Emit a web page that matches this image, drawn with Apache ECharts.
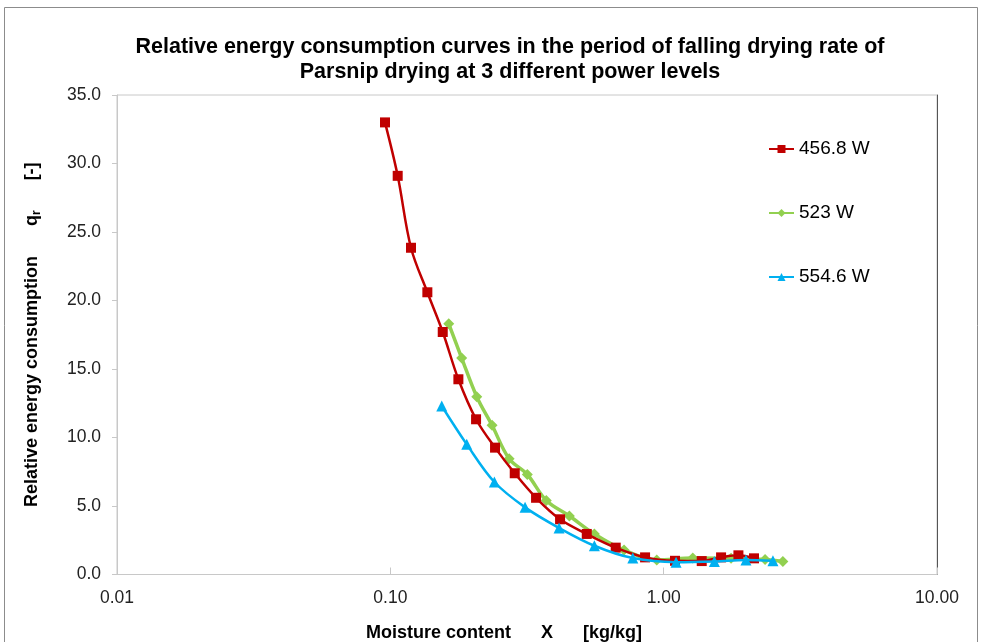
<!DOCTYPE html>
<html>
<head>
<meta charset="utf-8">
<title>Relative energy consumption - Parsnip drying</title>
<script src="https://cdn.jsdelivr.net/npm/echarts@6/dist/echarts.min.js"></script>
<style>
  html, body { margin: 0; padding: 0; background: #fff; }
  #main { width: 982px; height: 642px; }
</style>
</head>
<body>
<div id="main"></div>
<script>
// data
var seriesNames = ['456.8 W', '523 W', '554.6 W'];

var x4568 = [0.0956, 0.1064, 0.119, 0.1366, 0.1555, 0.1774, 0.2059, 0.2416, 0.2852, 0.3413, 0.4178, 0.5232, 0.6677, 0.855, 1.10, 1.378, 1.622, 1.877, 2.14];
var q4568 = [33.0, 29.1, 23.85, 20.6, 17.7, 14.25, 11.33, 9.26, 7.39, 5.6, 4.03, 2.96, 1.96, 1.25, 1.0, 0.98, 1.25, 1.4, 1.18];

var x523 = [0.1636, 0.1824, 0.2071, 0.2356, 0.272, 0.3171, 0.372, 0.4519, 0.5578, 0.7162, 0.9434, 1.278, 1.764, 2.35, 2.73];
var q523 = [18.3, 15.8, 12.98, 10.89, 8.45, 7.3, 5.4, 4.27, 2.96, 1.79, 1.06, 1.2, 1.18, 1.1, 0.95];

var x5546 = [0.1542, 0.1904, 0.2402, 0.3111, 0.4143, 0.5578, 0.771, 1.11, 1.533, 2.0, 2.51];
var q5546 = [12.3, 9.5, 6.75, 4.9, 3.4, 2.1, 1.2, 0.9, 0.95, 1.05, 1.0];

var yTicks = [0, 5, 10, 15, 20, 25, 30, 35];
var xTicks = [0.01, 0.1, 1, 10];

function pairs (xs, ys) {
  var out = [];
  for (var i = 0; i < xs.length; i++) {
    out.push([xs[i], ys[i]]);
  }
  return out;
}

var font = 'Liberation Sans, Arial, sans-serif';
var chart = echarts.init(document.getElementById('main'));

chart.setOption({
  animation: false,
  backgroundColor: '#fff',
  textStyle: { fontFamily: font },
  title: {
    text: 'Relative energy consumption curves in the period of falling drying rate of\nParsnip drying at 3 different power levels',
    left: 505,
    textAlign: 'center',
    top: 30,
    textStyle: { fontSize: 21.5, fontWeight: 'bold', color: '#000', lineHeight: 25, fontFamily: font }
  },
  graphic: [
    { // outer chart frame
      type: 'rect',
      shape: { x: 4.5, y: 7.5, width: 973, height: 700 },
      style: { fill: 'none', stroke: '#8c8c8c', lineWidth: 1 },
      silent: true
    }
  ],
  legend: {
    orient: 'vertical',
    left: 763,
    top: 134.5,
    itemGap: 45,
    itemWidth: 25,
    itemHeight: 10,
    textStyle: { fontSize: 19, color: '#000', fontFamily: font },
    data: seriesNames
  },
  grid: {
    left: 117,
    top: 95,
    right: 45,
    bottom: 67.5,
    outerBoundsMode: 'none',
    containLabel: false,
    show: true,
    borderColor: '#c8c8c8',
    borderWidth: 1
  },
  xAxis: {
    type: 'log',
    logBase: 10,
    min: xTicks[0],
    max: xTicks[xTicks.length - 1],
    name: 'Moisture content      X      [kg/kg]',
    nameLocation: 'middle',
    nameGap: 50,
    nameTextStyle: { fontSize: 18, fontWeight: 'bold', color: '#000', fontFamily: font, padding: [0, 46, 0, 0] },
    axisLine: { show: true, lineStyle: { color: '#c8c8c8' } },
    axisTick: { show: true, inside: true, length: 7, lineStyle: { color: '#c8c8c8' } },
    minorTick: { show: false },
    splitLine: { show: false },
    axisLabel: {
      fontSize: 17.5,
      color: '#222',
      margin: 15,
      formatter: function (v) { return v.toFixed(2); }
    }
  },
  yAxis: [
    {
      type: 'value',
      min: yTicks[0],
      max: yTicks[yTicks.length - 1],
      interval: 5,
      name: '{b|Relative energy consumption      q}{s|r}{b|      [-]}',
      nameLocation: 'middle',
      nameGap: 74,
      nameTextStyle: {
        rich: {
          b: { fontSize: 18, fontWeight: 'bold', color: '#000', fontFamily: font },
          s: { fontSize: 12, fontWeight: 'bold', color: '#000', fontFamily: font, padding: [10, 0, 0, 0] }
        }
      },
      axisLine: { show: true, lineStyle: { color: '#c8c8c8' } },
      axisTick: { show: true, length: 5, lineStyle: { color: '#c8c8c8' } },
      splitLine: { show: false },
      axisLabel: {
        fontSize: 17.5,
        color: '#222',
        margin: 16,
        formatter: function (v) { return v.toFixed(1); }
      }
    },
    { // right edge of the plot area, darker line
      type: 'value',
      position: 'right',
      min: yTicks[0],
      max: yTicks[yTicks.length - 1],
      interval: 5,
      axisLine: { show: true, lineStyle: { color: '#555' } },
      axisTick: { show: false },
      axisLabel: { show: false },
      splitLine: { show: false }
    }
  ],
  series: [
    {
      name: seriesNames[0],
      type: 'line',
      smooth: 0.35,
      data: pairs(x4568, q4568),
      symbol: 'rect',
      symbolSize: 10,
      lineStyle: { color: '#C00000', width: 2.5 },
      itemStyle: { color: '#C00000' },
      z: 3
    },
    {
      name: seriesNames[1],
      type: 'line',
      smooth: 0.35,
      data: pairs(x523, q523),
      symbol: 'diamond',
      symbolSize: 11,
      lineStyle: { color: '#92D050', width: 3.5 },
      itemStyle: { color: '#92D050' },
      z: 2
    },
    {
      name: seriesNames[2],
      type: 'line',
      smooth: 0.35,
      data: pairs(x5546, q5546),
      symbol: 'triangle',
      symbolSize: 11,
      lineStyle: { color: '#00B0F0', width: 2.5 },
      itemStyle: { color: '#00B0F0' },
      z: 4
    }
  ]
});
</script>
</body>
</html>
